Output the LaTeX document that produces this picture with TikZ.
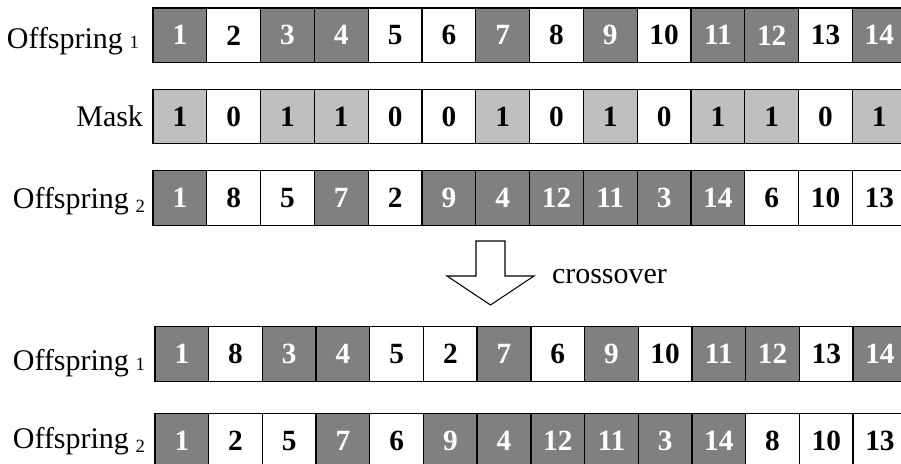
\documentclass[tikz,border=0pt]{standalone}
\usepackage{fontspec}
\setmainfont{Liberation Serif}
\definecolor{darkcell}{gray}{0.5}
\definecolor{maskcell}{gray}{0.75}
\newcommand{\offs}[2]{Offspring\hspace{5pt}\raisebox{#2}{\fontsize{14}{14}\selectfont #1}}

\begin{document}
\begin{tikzpicture}
    [x=0.75pt, y=-0.75pt,
    every node/.style={inner sep=0pt, outer sep=0pt},
    cell/.style={draw=black, line width=1pt, minimum width=40.35pt, minimum height=40.9pt,
      font=\fontsize{22}{24}\selectfont\bfseries},
    dk/.style={cell, fill=darkcell, text=white},
    wt/.style={cell, fill=white},
    lt/.style={cell, fill=maskcell},
    lbl/.style={anchor=base east, font=\fontsize{22.5}{26}\selectfont},
    ]
    \clip (0,0) rectangle (901,464);
    % parents
    \foreach \n/\s [count=\i] in {1/dk,2/wt,3/dk,4/dk,5/wt,6/wt,7/dk,8/wt,9/dk,10/wt,11/dk,12/dk,13/wt,14/dk}
      \node[\s] (pa\i) at ({153+53.8*(\i-.5)},35.3) {\n};
    \foreach \n/\s [count=\i] in {1/lt,0/wt,1/lt,1/lt,0/wt,0/wt,1/lt,0/wt,1/lt,0/wt,1/lt,1/lt,0/wt,1/lt}
      \node[\s] (mk\i) at ({153+53.8*(\i-.5)},116.5) {\n};
    \foreach \n/\s [count=\i] in {1/dk,8/wt,5/wt,7/dk,2/wt,9/dk,4/dk,12/dk,11/dk,3/dk,14/dk,6/wt,10/wt,13/wt}
      \node[\s] (pb\i) at ({153+53.8*(\i-.5)},198) {\n};
    % children
    \foreach \n/\s [count=\i] in {1/dk,8/wt,3/dk,4/dk,5/wt,2/wt,7/dk,6/wt,9/dk,10/wt,11/dk,12/dk,13/wt,14/dk}
      \node[\s] (ca\i) at ({155+53.7*(\i-.5)},354) {\n};
    \foreach \n/\s [count=\i] in {1/dk,2/wt,5/wt,7/dk,6/wt,9/dk,4/dk,12/dk,11/dk,3/dk,14/dk,8/wt,10/wt,13/wt}
      \node[\s] (cb\i) at ({155+53.7*(\i-.5)},441) {\n};
    % labels
    \node[lbl] (lpa) at (139,48) {\offs{1}{0pt}};
    \node[lbl] (lmk) at (143,126) {Mask};
    \node[lbl] (lpb) at (145,208) {\offs{2}{-3pt}};
    \node[lbl] (lca) at (145,370) {\offs{1}{0pt}};
    \node[lbl] (lcb) at (145,448) {\offs{2}{-3pt}};
    % arrow
    \draw[line width=0.8pt] (476,241) -- (505,241) -- (505,276) -- (534,276)
      -- (490.5,305) -- (447,276) -- (476,276) -- cycle;
    \node[anchor=base west, font=\fontsize{22.5}{26}\selectfont] (cx) at (552,283) {crossover};
\end{tikzpicture}
\end{document}
